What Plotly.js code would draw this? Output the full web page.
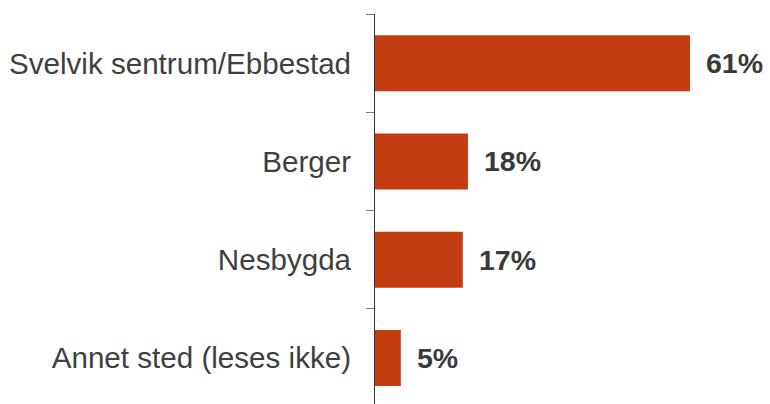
<!DOCTYPE html>
<html>
<head>
<meta charset="utf-8">
<script src="https://cdn.plot.ly/plotly-3.0.1.min.js"></script>
<style>html,body{margin:0;padding:0;background:#fff;}</style>
</head>
<body>
<div id="chart" style="width:770px;height:404px;"></div>
<script>
const categories = ["Svelvik sentrum/Ebbestad", "Berger", "Nesbygda", "Annet sted (leses ikke)"];
const values = [61, 18, 17, 5];
const valueLabels = ["61%", "18%", "17%", "5%"];

const trace = {
  type: 'bar',
  orientation: 'h',
  y: categories,
  x: values,
  width: 0.57,
  marker: {color: '#C33B10', line: {width: 0}},
  hoverinfo: 'none'
};

const annotations = categories.map((c, i) => ({
  x: values[i], y: c, xref: 'x', yref: 'y',
  text: valueLabels[i], showarrow: false,
  xanchor: 'left', yanchor: 'middle', xshift: 14,
  font: {family: 'Liberation Sans, Arial, sans-serif', size: 28.5, color: '#3a3a3a', weight: 'bold'}
}));

const layout = {
  width: 770, height: 404,
  margin: {l: 375, r: 0, t: 14, b: 0, pad: 0},
  paper_bgcolor: '#fff', plot_bgcolor: '#fff',
  showlegend: false,
  xaxis: {range: [0, 76.5], showgrid: false, zeroline: false, showline: false, showticklabels: false, ticks: ''},
  yaxis: {
    type: 'category', categoryorder: 'array', categoryarray: categories,
    range: [3.467, -0.5], autorange: false,
    showline: true, linecolor: '#333333', linewidth: 1,
    ticks: 'outside', tickson: 'boundaries', ticklen: 8, tickcolor: '#808080', tickwidth: 1,
    showgrid: false, zeroline: false,
    ticklabelstandoff: 17,
    tickfont: {family: 'Liberation Sans, Arial, sans-serif', size: 29.6, color: '#404040'}
  },
  annotations: annotations
};

Plotly.newPlot('chart', [trace], layout, {displayModeBar: false, staticPlot: true});
</script>
</body>
</html>
